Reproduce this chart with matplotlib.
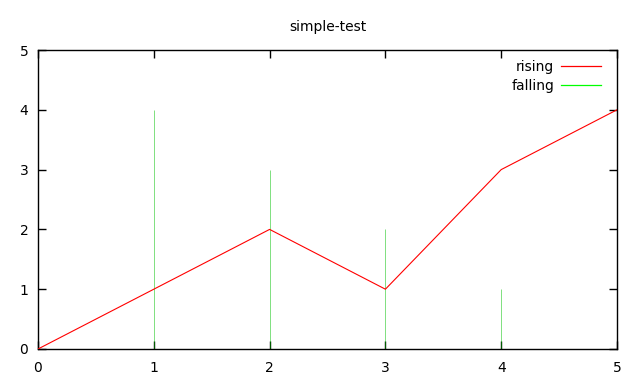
import matplotlib
matplotlib.use('Agg')
import matplotlib.pyplot as plt
from matplotlib.lines import Line2D

x_rising = [0, 1, 2, 3, 4, 5]
y_rising = [0, 1, 2, 1, 3, 4]
x_falling = [1, 2, 3, 4]
y_falling = [4, 3, 2, 1]
ticks = [0, 1, 2, 3, 4, 5]

plt.rcParams['font.family'] = ['DejaVu Sans']
fig = plt.figure(figsize=(6.39, 3.84), dpi=100)
ax = fig.add_axes([38/639, 1-349/384, (617-38)/639, (349-50)/384])

ax.plot(x_rising, y_rising, color='#ff0000', lw=0.8, zorder=3)
ax.vlines(x_falling, 0, y_falling, color='#00c000', lw=0.5, alpha=0.7, zorder=2)

ax.set_xlim(0, 5)
ax.set_ylim(0, 5)
ax.set_xticks(ticks)
ax.set_yticks(ticks)
ax.tick_params(direction='in', length=6, width=1, top=True, right=True,
               labelsize=10)
ax.tick_params(axis='x', pad=9)
ax.tick_params(axis='y', pad=7)
for s in ax.spines.values():
    s.set_linewidth(1)
ax.set_title('simple-test', fontsize=10, pad=14)

h = [Line2D([], [], color='#ff0000', lw=0.9), Line2D([], [], color='#00ff00', lw=0.9)]
ax.legend(h, ['rising', 'falling'], loc='upper right', frameon=False, markerfirst=False,
          fontsize=10, handlelength=2.9, handletextpad=0.5, labelspacing=0.35,
          borderaxespad=0.3, bbox_to_anchor=(0.99, 1.0))

fig.savefig('out.png', dpi=100)
